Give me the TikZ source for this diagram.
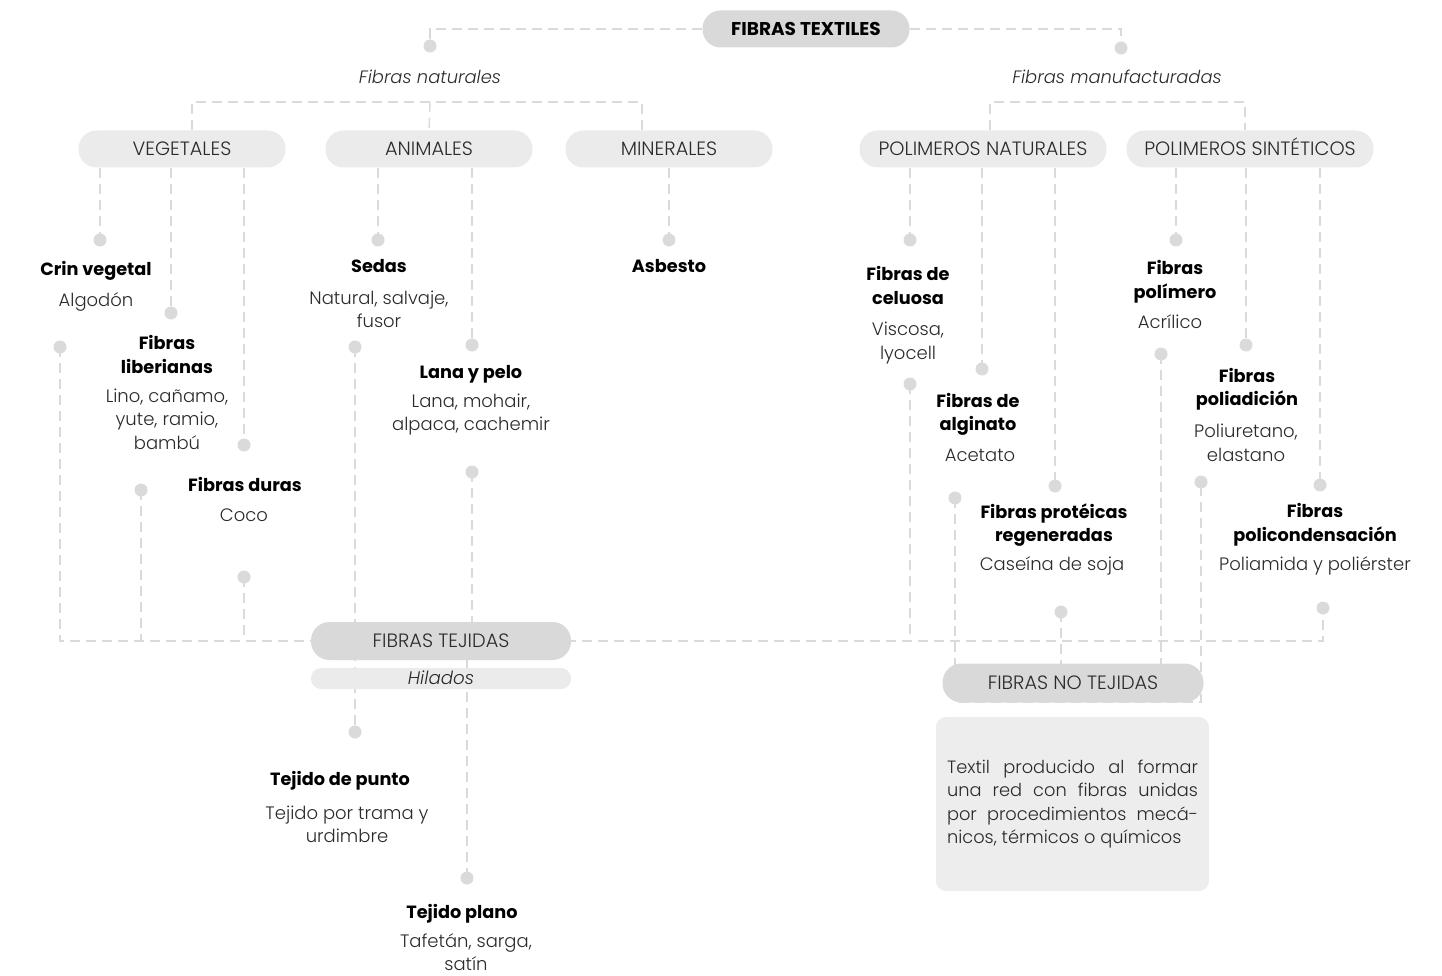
\documentclass[tikz,border=0pt]{standalone}
\usepackage{fontspec}
\setmainfont{Poppins}[UprightFont=* Light, ItalicFont=* Light Italic, BoldFont=* Bold, BoldItalicFont=* Bold Italic]
\usetikzlibrary{calc}
\definecolor{ln}{HTML}{DADADA}
\definecolor{pillA}{HTML}{D9D9D9}
\definecolor{pillB}{HTML}{EBEBEB}
\definecolor{boxc}{HTML}{EDEDED}
\definecolor{txt}{HTML}{2A2A2A}
\tikzset{
  conn/.style={draw=ln, line width=1.4pt, dash pattern=on 10pt off 6pt},
  dotn/.style={circle, fill=ln, minimum size=13pt, inner sep=0pt},
  pill/.style={rounded corners=18pt, minimum height=37pt, inner sep=0pt, text=txt, text height=13.5pt, text depth=0pt, font=\fontsize{19.3}{22}\selectfont},
  ttl/.style={align=center, inner sep=0pt, yshift=-2pt, text=black, font=\bfseries\fontsize{17.7}{23.5}\selectfont},
  bdy/.style={align=center, inner sep=0pt, yshift=-2pt, text=txt, font=\fontsize{18}{23.5}\selectfont},
  itl/.style={inner sep=0pt, yshift=-1pt, text=txt, font=\itshape\fontsize{17.9}{20}\selectfont},
}
\begin{document}
\begin{tikzpicture}[x=1pt,y=-1pt]
\useasboundingbox (0,0) rectangle (1442,976);
% ---------- nodes that define positions ----------
\node[pill, fill=pillA, minimum width=207pt, text height=12.9pt, font=\bfseries\fontsize{18.5}{22}\selectfont, text=black] (T) at (806,29) {FIBRAS TEXTILES};
\node[itl] (fn) at (430,76) {Fibras naturales};
\node[itl] (fm) at (1117,76) {Fibras manufacturadas};
\coordinate (bN) at (430,102);
\coordinate (bM) at (1117,102);

\node[pill, fill=pillB, minimum width=207pt] (veg) at (182,149) {VEGETALES};
\node[pill, fill=pillB, minimum width=207pt] (ani) at (429,149) {ANIMALES};
\node[pill, fill=pillB, minimum width=207pt] (min) at (669,149) {MINERALES};
\node[pill, fill=pillB, minimum width=247pt] (pn) at (983,149) {POLIMEROS NATURALES};
\node[pill, fill=pillB, minimum width=247pt] (ps) at (1250,149) {POLIMEROS SINTÉTICOS};

% dots (upper)
\coordinate (dn) at (430,46);
\coordinate (dm) at (1121,48);
\coordinate (v1) at (100,240);
\coordinate (v2) at (171,313);
\coordinate (v3) at (244,445);
\coordinate (a1) at (378,240);
\coordinate (a2) at (472,345);
\coordinate (m1) at (669,240);
\coordinate (n1) at (910,240);
\coordinate (n2) at (982,369);
\coordinate (n3) at (1055,486);
\coordinate (s1) at (1176,240);
\coordinate (s2) at (1246,345);
\coordinate (s3) at (1320,485);
% dots (lower)
\coordinate (l1) at (60,347);
\coordinate (l2) at (141,490);
\coordinate (l3) at (244,577);
\coordinate (l4) at (355,347);
\coordinate (l5) at (472,472);
\coordinate (r1) at (910,384);
\coordinate (r2) at (955,498);
\coordinate (r3) at (1061,612);
\coordinate (r4) at (1161,354);
\coordinate (r5) at (1201,482);
\coordinate (r6) at (1323,608);
\coordinate (p1) at (355,732);
\coordinate (p2) at (467,878);

\coordinate (tejc) at (441,641);
\coordinate (ntc) at (1073,683);
\coordinate (ntS) at (1073,702);

% ---------- connectors ----------
\draw[conn] (T.west) -| (dn);
\draw[conn] (T.east) -| (dm);
\draw[conn] ([xshift=10pt]veg.north) |- (bN) -| ([xshift=-27pt]min.north);
\draw[conn] (bN) -- (ani.north);
\draw[conn] ([xshift=7pt]pn.north) |- (bM) -| ([xshift=-5pt]ps.north);

\foreach \d/\p in {v1/veg,v2/veg,v3/veg,a1/ani,a2/ani,m1/min,n1/pn,n2/pn,n3/pn,s1/ps,s2/ps,s3/ps}
  \draw[conn] (\p.south -| \d) -- (\d);

\draw[conn] (l1) |- (tejc) -| (r6);
\draw[conn] (l2) -- (l2 |- tejc);
\draw[conn] (l3) -- (l3 |- tejc);
\draw[conn] (l4) -- (p1);
\draw[conn] (l5) -- (l5 |- tejc);
\draw[conn] (p2) -- (p2 |- tejc);
\draw[conn] (r1) -- (r1 |- tejc);
\draw[conn] (r2) -- (r2 |- ntS) -- (r5 |- ntS) -- (r5);
\draw[conn] (r3) -- (r3 |- ntc);
\draw[conn] (r4) -- (r4 |- ntc);

% ---------- lower pills ----------
\node[pill, fill=pillA, minimum width=260pt, minimum height=38pt, rounded corners=18.5pt] (tej) at (tejc) {FIBRAS TEJIDAS};
\node[pill, fill=pillB, minimum width=260pt, minimum height=21pt, rounded corners=10pt, text height=12.7pt, text depth=0pt, font=\itshape\fontsize{18.2}{20}\selectfont] (hil) at (441,678.5) {Hilados};
\node[pill, fill=pillA, minimum width=261pt, minimum height=39pt, rounded corners=19pt] (nt) at (ntc) {FIBRAS NO TEJIDAS};
\node[fill=boxc, rounded corners=10pt, minimum width=273pt, minimum height=174pt, inner sep=0pt, align=left, text=txt, font=\fontsize{17.8}{23.5}\selectfont] (box) at (1072.5,804)
 {\makebox[251pt][s]{Textil producido al formar}\\
  \makebox[251pt][s]{una red con fibras unidas}\\
  \makebox[251pt][s]{por procedimientos mecá-}\\
  \makebox[251pt][l]{nicos, térmicos o químicos}};

% ---------- dots ----------
\foreach \d in {dn,dm,v1,v2,v3,a1,a2,m1,n1,n2,n3,s1,s2,s3,l1,l2,l3,l4,l5,r1,r2,r3,r4,r5,r6,p1,p2}
  \node[dotn] (dot-\d) at (\d) {};

% ---------- texts ----------
\node[ttl] (t-v1) at (96,269) {Crin vegetal};
\node[bdy] (b-v1) at (96,300) {Algodón};
\node[ttl] (t-v2) at (167,352.5) {Fibras\\liberianas};
\node[bdy] (b-v2) at (167,417) {Lino, cañamo,\\yute, ramio,\\bambú};
\node[ttl] (t-v3) at (245,482) {Fibras duras};
\node[bdy] (b-v3) at (244,513) {Coco};
\node[ttl] (t-a1) at (379,264) {Sedas};
\node[bdy] (b-a1) at (379,307.5) {Natural, salvaje,\\fusor};
\node[ttl] (t-a2) at (471,372) {Lana y pelo};
\node[bdy] (b-a2) at (471,412.5) {Lana, mohair,\\alpaca, cachemir};
\node[ttl] (t-m1) at (669,264) {Asbesto};
\node[ttl] (t-n1) at (908,283.5) {Fibras de\\celuosa};
\node[bdy] (b-n1) at (908,341) {Viscosa,\\lyocell};
\node[ttl] (t-n2) at (978,412.5) {Fibras de\\alginato};
\node[bdy] (b-n2) at (980,453) {Acetato};
\node[ttl] (t-n3) at (1054,523) {Fibras protéicas\\regeneradas};
\node[bdy] (b-n3) at (1052,564) {Caseína de soja};
\node[ttl] (t-s1) at (1175,280) {Fibras\\polímero};
\node[bdy] (b-s1) at (1170,320) {Acrílico};
\node[ttl] (t-s2) at (1247,387.5) {Fibras\\poliadición};
\node[bdy] (b-s2) at (1246,441) {Poliuretano,\\elastano};
\node[ttl] (t-s3) at (1315,523) {Fibras\\policondensación};
\node[bdy] (b-s3) at (1315,564) {Poliamida y poliérster};
\node[ttl] (t-p1) at (340,779) {Tejido de punto};
\node[bdy] (b-p1) at (347,822.5) {Tejido por trama y\\urdimbre};
\node[ttl] (t-p2) at (462,912) {Tejido plano};
\node[bdy] (b-p2) at (466,950) {Tafetán, sarga,\\satín};
\end{tikzpicture}
\end{document}
